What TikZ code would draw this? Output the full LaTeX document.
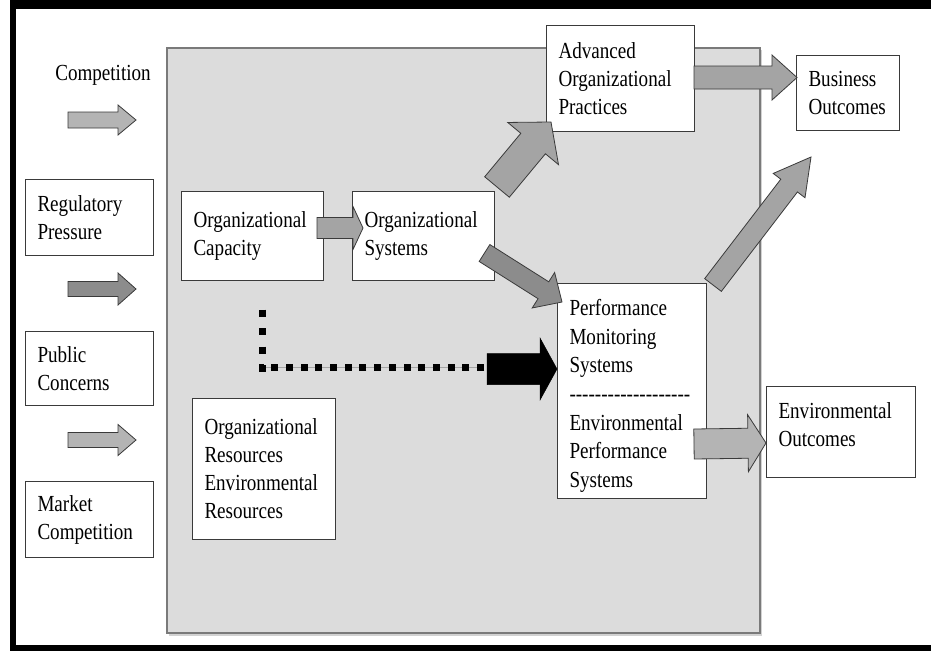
\documentclass[tikz,border=0pt]{standalone}
\usepackage{fontspec}
\setmainfont[FakeStretch=0.83]{Liberation Serif}
\usetikzlibrary{calc}
\definecolor{panel}{HTML}{DCDCDC}
\definecolor{paneledge}{HTML}{7A7A7A}
\definecolor{edge}{HTML}{3A3A3A}
\definecolor{arrlight}{HTML}{B4B4B4}
\definecolor{arrmid}{HTML}{A4A4A4}
\definecolor{arrdark}{HTML}{8C8C8C}
% block arrow: #1 style, #2 tail, #3 tip, #4 half shaft, #5 half head, #6 head length
\newcommand\blkarrow[6]{%
  \coordinate (bh) at ($(#3)!#6!(#2)$);
  \filldraw[#1] ($(#2)!#4!90:(#3)$) -- ($(bh)!#4!90:(#3)$) -- ($(bh)!#5!90:(#3)$)
    -- (#3) -- ($(bh)!#5!-90:(#3)$) -- ($(bh)!#4!-90:(#3)$) -- ($(#2)!#4!-90:(#3)$) -- cycle;}
\newcommand\hy{-\kern0pt}
\begin{document}
\begin{tikzpicture}[x=1pt,y=-1pt,
  txt/.style={font=\fontsize{23}{28}\selectfont},
  box/.style={txt, draw=edge, line width=1pt, fill=white, inner xsep=12pt, inner ysep=0pt,
    align=left, anchor=north west},
  arr/.style={draw=edge, line width=0.8pt, line join=miter},
  dots/.style={line width=7pt, line cap=butt}]
\useasboundingbox (0,0) rectangle (931,651);
% frame
\fill[black] (10,0) rectangle (931,651);
\fill[white] (16,9) rectangle (931,645);
% panel
\fill[gray!35] (169,50) rectangle (762,636);
\filldraw[fill=panel, draw=paneledge, line width=1.3pt] (167,48) rectangle (760,633);
% dotted connector
\coordinate (dtop) at (262,309.5);
\coordinate (dcorner) at (262,367);
\coordinate (dend) at (484,367);
\draw[gray!70, line width=0.6pt] (dcorner) -- (dend);
\draw[dots, dash pattern=on 7pt off 11.5pt] (dtop) -- (262,372);
\draw[dots, dash pattern=on 7pt off 7.7pt] (dend) -- (259,367);
% boxes
\node[txt, anchor=base] (comp) at (103,80) {Competition};
\node[box, minimum width=128pt, minimum height=76pt, text width=104pt] (reg) at (25,179) {Regulatory\\Pressure};
\node[box, minimum width=128pt, minimum height=74pt, text width=104pt] (pub) at (25,331) {Public\\Concerns};
\node[box, minimum width=128pt, minimum height=76pt, text width=104pt] (mkt) at (25,481) {Market\\Competition};
\node[box, minimum width=142pt, minimum height=89pt, text width=118pt] (cap) at (181,191) {Organizational\\Capacity};
\node[box, minimum width=142pt, minimum height=89pt, text width=118pt] (sys) at (352,191) {Organizational\\Systems};
\node[box, minimum width=143pt, minimum height=141pt, text width=119pt] (res) at (192,398) {Organizational\\Resources\\Environmental\\Resources};
\node[box, minimum width=148pt, minimum height=106pt, text width=124pt] (adv) at (546,25) {Advanced\\Organizational\\Practices};
\node[box, minimum width=103pt, minimum height=75pt, text width=79pt] (bus) at (796,55) {Business\\Outcomes};
\node[box, minimum width=149pt, minimum height=215pt, text width=125pt, font=\fontsize{23}{28.7}\selectfont] (perf) at (557,283)
  {\rule{0pt}{26pt}Performance\\Monitoring\\Systems\\\hy\hy\hy\hy\hy\hy\hy\hy\hy\hy\hy\hy\hy\hy\hy\hy\hy\hy\hy\\Environmental\\Performance\\Systems};
\node[box, minimum width=149pt, minimum height=91pt, text width=125pt] (env) at (766,386) {Environmental\\Outcomes\rule[-14pt]{0pt}{0pt}};
% arrow end points
\coordinate (l1s) at (68,120);  \coordinate (l1e) at (136,120);
\coordinate (l2s) at (68,289);  \coordinate (l2e) at (136,289);
\coordinate (l3s) at (68,440);  \coordinate (l3e) at (136,440);
\coordinate (capout) at (317,228); \coordinate (sysin) at (363,228);
\coordinate (sysup) at (497,187); \coordinate (advin) at (551,122);
\coordinate (sysdn) at (484.5,253); \coordinate (perfin) at (562,302);
\coordinate (advout) at (694,77.5); \coordinate (busin) at (797,77.5);
\coordinate (perfup) at (713,285); \coordinate (busin2) at (811,157);
\coordinate (perfout) at (694,444); \coordinate (envin) at (766,443);
\coordinate (blks) at (487,369); \coordinate (perfin2) at (557,369);
% block arrows
\blkarrow{arr, fill=arrlight}{l1s}{l1e}{8pt}{15pt}{18pt}
\blkarrow{arr, fill=arrdark}{l2s}{l2e}{7.5pt}{16pt}{18pt}
\blkarrow{arr, fill=arrlight}{l3s}{l3e}{7.5pt}{15.5pt}{18pt}
\blkarrow{arr, fill=arrmid}{capout}{sysin}{10.5pt}{21.5pt}{10pt}
\blkarrow{arr, fill=arrmid}{sysup}{advin}{16pt}{33pt}{28pt}
\blkarrow{arr, fill=arrdark}{sysdn}{perfin}{10pt}{21pt}{22pt}
\blkarrow{arr, fill=arrmid}{advout}{busin}{11.5pt}{22.5pt}{25pt}
\blkarrow{arr, fill=arrmid}{perfup}{busin2}{10.5pt}{20pt}{36pt}
\blkarrow{arr, fill=arrlight}{perfout}{envin}{15pt}{28.5pt}{18pt}
\blkarrow{fill=black, draw=black, line width=0.5pt}{blks}{perfin2}{15.5pt}{31pt}{17pt}
\end{tikzpicture}
\end{document}
